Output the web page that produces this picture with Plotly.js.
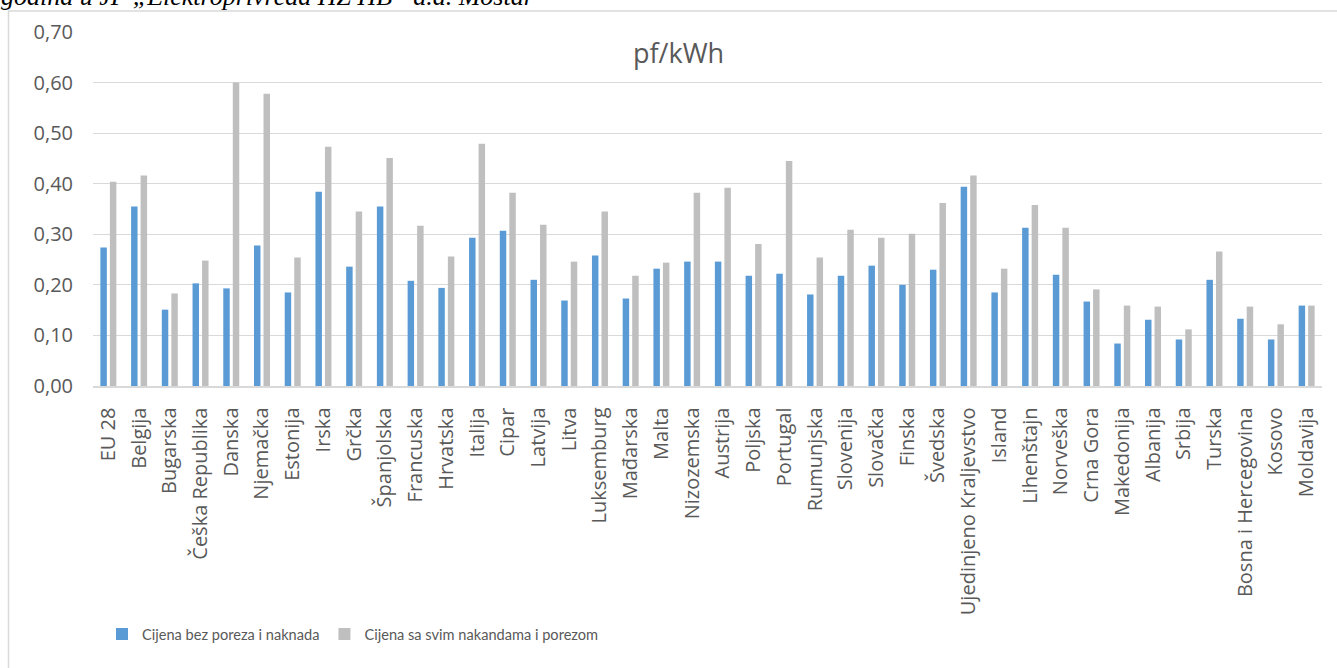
<!DOCTYPE html>
<html>
<head>
<meta charset="utf-8">
<script src="https://cdn.plot.ly/plotly-3.0.1.min.js"></script>
<style>html,body{margin:0;padding:0;background:#fff;}#chart{width:1337px;height:668px;}</style>
</head>
<body>
<div id="chart"></div>
<script>
var countries = ["EU 28","Belgija","Bugarska","Češka Republika","Danska","Njemačka","Estonija","Irska","Grčka","Španjolska","Francuska","Hrvatska","Italija","Cipar","Latvija","Litva","Luksemburg","Mađarska","Malta","Nizozemska","Austrija","Poljska","Portugal","Rumunjska","Slovenija","Slovačka","Finska","Švedska","Ujedinjeno Kraljevstvo","Island","Lihenštajn","Norveška","Crna Gora","Makedonija","Albanija","Srbija","Turska","Bosna i Hercegovina","Kosovo","Moldavija"];
var bezPoreza = [0.274,0.355,0.151,0.203,0.193,0.278,0.185,0.384,0.236,0.355,0.208,0.194,0.293,0.307,0.210,0.169,0.258,0.173,0.232,0.246,0.246,0.218,0.222,0.181,0.218,0.238,0.200,0.230,0.394,0.185,0.313,0.220,0.167,0.084,0.131,0.092,0.210,0.133,0.092,0.159];
var saPorezom = [0.404,0.416,0.183,0.248,0.600,0.578,0.254,0.473,0.345,0.451,0.317,0.256,0.479,0.382,0.319,0.246,0.345,0.218,0.244,0.382,0.392,0.281,0.445,0.254,0.309,0.293,0.301,0.362,0.416,0.232,0.358,0.313,0.191,0.159,0.157,0.112,0.266,0.157,0.122,0.159];
var seriesNames = ["Cijena bez poreza i naknada","Cijena sa svim nakandama i porezom"];
var chartTitle = "pf/kWh";
var caption = "godina u JP „Elektroprivreda HZ HB“ d.d. Mostar";

var tickFont = {family: "Open Sans, sans-serif", size: 20, color: "#595959"};

var traces = [
  {type: "bar", name: seriesNames[0], x: countries, y: bezPoreza, marker: {color: "#5b9bd5"}, hoverinfo: "none"},
  {type: "bar", name: seriesNames[1], x: countries, y: saPorezom, marker: {color: "#bfbfbf"}, hoverinfo: "none"}
];

// plot area: x 93..1322, y 32..386
var L = 93, R = 1322, T = 32, B = 386;
function px(x){ return (x - L) / (R - L); }
function py(y){ return (B - y) / (B - T); }

var layout = {
  width: 1337, height: 668,
  margin: {l: L, r: 1337 - R, t: T, b: 668 - B},
  paper_bgcolor: "#ffffff", plot_bgcolor: "#ffffff",
  separators: ", ",
  barmode: "group", bargap: 0.38, bargroupgap: 0.32,
  showlegend: true,
  legend: {
    orientation: "h", x: px(102), xanchor: "left", y: py(634), yanchor: "middle",
    font: {family: "Lato, Roboto, sans-serif", size: 14.6, color: "#595959"},
    traceorder: "normal"
  },
  xaxis: {
    type: "category", tickangle: -90, tickfont: tickFont, showgrid: false,
    showline: true, linecolor: "#d9d9d9", linewidth: 1.5, ticks: "", ticklabelstandoff: 12,
    fixedrange: true
  },
  yaxis: {
    range: [0, 0.70], dtick: 0.10, tick0: 0, tickformat: ".2f", tickfont: tickFont,
    showgrid: true, gridcolor: "#d9d9d9", gridwidth: 1, zeroline: false, showline: false,
    ticks: "", ticklabelstandoff: 19, fixedrange: true
  },
  annotations: [
    {text: chartTitle, xref: "paper", yref: "paper", x: px(678), y: py(52), xanchor: "center", yanchor: "middle",
     showarrow: false, font: {family: "Open Sans, sans-serif", size: 27, color: "#595959"}},
    {text: "<i>" + caption + "</i>", xref: "paper", yref: "paper", x: px(-1), y: py(-4), xanchor: "left", yanchor: "middle",
     showarrow: false, font: {family: "Liberation Serif, Times New Roman, serif", size: 26, color: "#000000"}}
  ],
  shapes: [
    {type: "rect", xref: "paper", yref: "paper", x0: px(8.5), x1: px(1400), y0: py(11), y1: py(800),
     line: {color: "#d9d9d9", width: 1.5}, fillcolor: "rgba(0,0,0,0)", layer: "below"}
  ]
};

Plotly.newPlot("chart", traces, layout, {displayModeBar: false, staticPlot: true});
</script>
</body>
</html>
